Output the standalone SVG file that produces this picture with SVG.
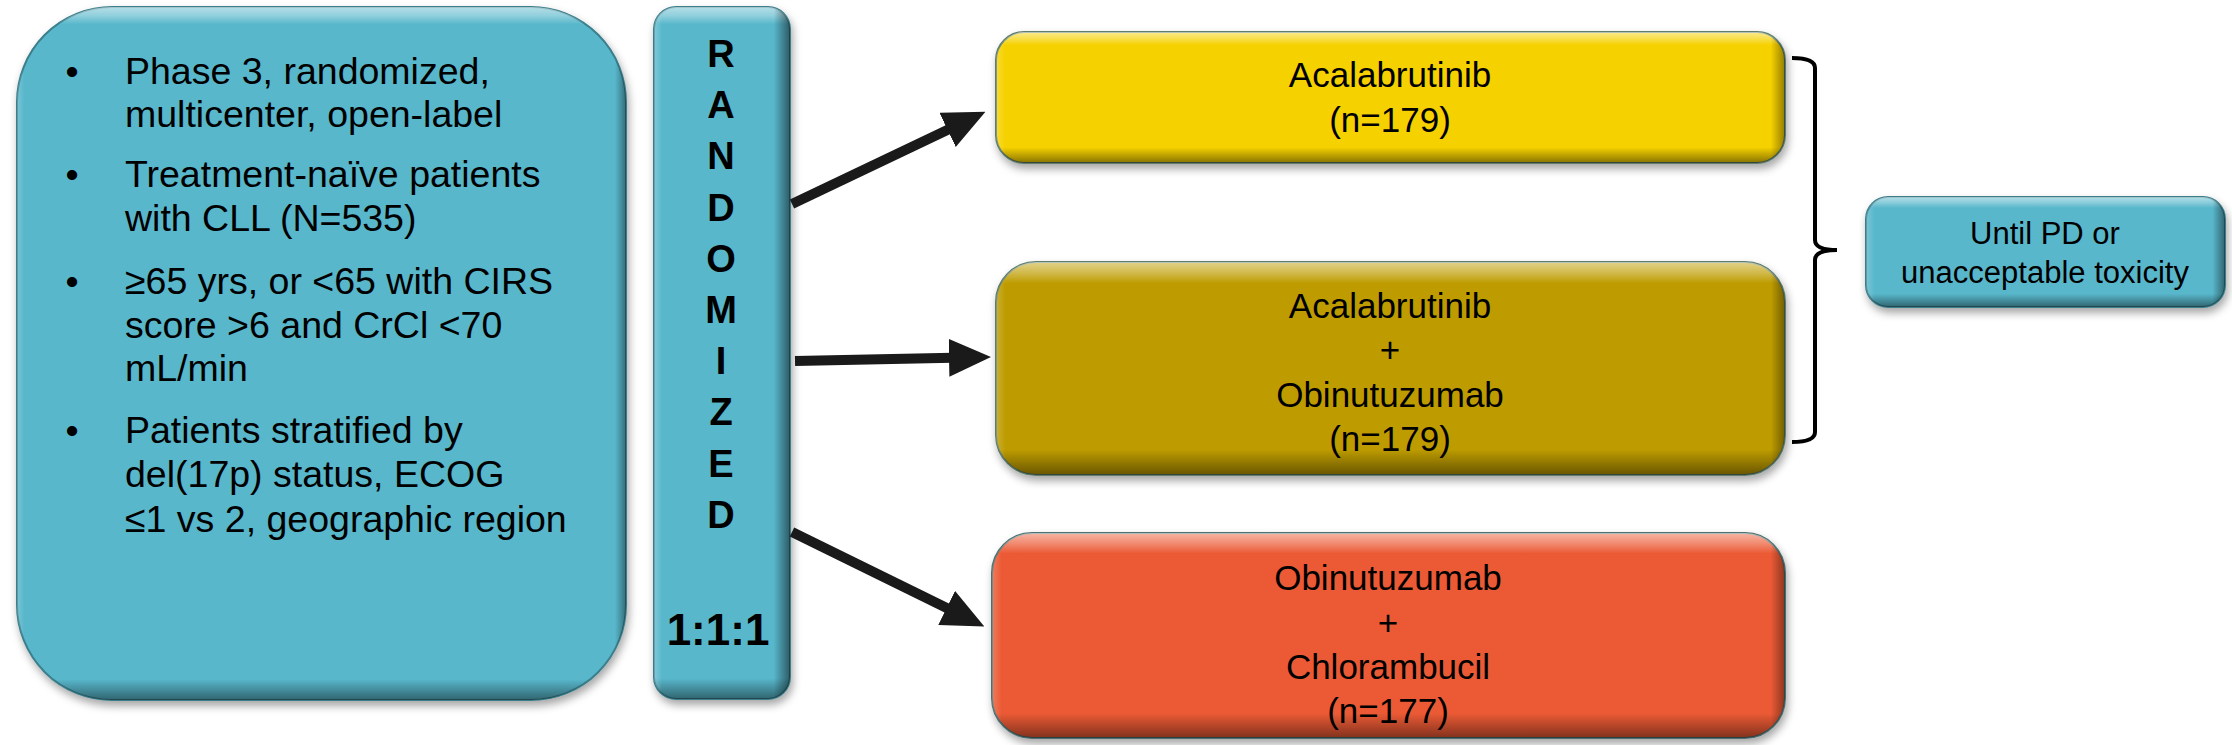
<svg xmlns="http://www.w3.org/2000/svg" width="2232" height="745" viewBox="0 0 2232 745">
<style>
.t{font-family:"Liberation Sans",Arial,sans-serif;fill:#000}
.lt{font-size:37.5px}
.bt{font-size:35px;text-anchor:middle}
.rz{font-size:38px;font-weight:bold;text-anchor:middle}
.teal{fill:#58B7CB;stroke:#3B7F8C;stroke-width:2}
.yel{fill:#F6D104;stroke:#5F7D6A;stroke-width:2}
.oli{fill:#BE9C03;stroke:#5F7D6A;stroke-width:2}
.org{fill:#EB5A34;stroke:#4F6F70;stroke-width:2}
.conn{stroke:#1a1a1a;stroke-width:10;fill:none}
</style>
<defs>
<filter id="sh" x="-10%" y="-10%" width="120%" height="130%">
<feDropShadow dx="2" dy="5" stdDeviation="4" flood-color="#000" flood-opacity="0.35"/>
</filter>
<linearGradient id="vTall" x1="0" y1="0" x2="0" y2="1">
<stop offset="0" stop-color="#fff" stop-opacity="0.55"/>
<stop offset="0.012" stop-color="#fff" stop-opacity="0.35"/>
<stop offset="0.025" stop-color="#fff" stop-opacity="0"/>
<stop offset="0.97" stop-color="#000" stop-opacity="0"/>
<stop offset="1" stop-color="#000" stop-opacity="0.45"/>
</linearGradient>
<linearGradient id="vShort" x1="0" y1="0" x2="0" y2="1">
<stop offset="0" stop-color="#fff" stop-opacity="0.55"/>
<stop offset="0.05" stop-color="#fff" stop-opacity="0.3"/>
<stop offset="0.1" stop-color="#fff" stop-opacity="0"/>
<stop offset="0.88" stop-color="#000" stop-opacity="0"/>
<stop offset="1" stop-color="#000" stop-opacity="0.45"/>
</linearGradient>
<linearGradient id="hWide" x1="0" y1="0" x2="1" y2="0">
<stop offset="0" stop-color="#fff" stop-opacity="0.2"/>
<stop offset="0.012" stop-color="#fff" stop-opacity="0"/>
<stop offset="0.982" stop-color="#000" stop-opacity="0"/>
<stop offset="1" stop-color="#000" stop-opacity="0.4"/>
</linearGradient>
<linearGradient id="hNarrow" x1="0" y1="0" x2="1" y2="0">
<stop offset="0" stop-color="#fff" stop-opacity="0.25"/>
<stop offset="0.06" stop-color="#fff" stop-opacity="0"/>
<stop offset="0.88" stop-color="#000" stop-opacity="0"/>
<stop offset="1" stop-color="#000" stop-opacity="0.5"/>
</linearGradient>
<linearGradient id="hMid" x1="0" y1="0" x2="1" y2="0">
<stop offset="0" stop-color="#fff" stop-opacity="0.2"/>
<stop offset="0.025" stop-color="#fff" stop-opacity="0"/>
<stop offset="0.965" stop-color="#000" stop-opacity="0"/>
<stop offset="1" stop-color="#000" stop-opacity="0.45"/>
</linearGradient>
<marker id="ah" viewBox="0 0 42 38" refX="16" refY="19" markerWidth="42" markerHeight="38" markerUnits="userSpaceOnUse" orient="auto">
<path d="M0,0 L42,19 L0,38 z" fill="#1a1a1a"/>
</marker>
</defs>

<g id="criteria">
<rect class="teal" x="17" y="7" width="609" height="693" rx="95" filter="url(#sh)"/>
<rect x="17" y="7" width="609" height="693" rx="95" fill="url(#vTall)"/>
<rect x="17" y="7" width="609" height="693" rx="95" fill="url(#hWide)"/>
<g class="t lt">
<text x="72" y="84" text-anchor="middle">•</text>
<text x="125" y="84">Phase 3, randomized,</text>
<text x="125" y="127">multicenter, open-label</text>
<text x="72" y="187" text-anchor="middle">•</text>
<text x="125" y="187">Treatment-naïve patients</text>
<text x="125" y="231">with CLL (N=535)</text>
<text x="72" y="294" text-anchor="middle">•</text>
<text x="125" y="294">≥65 yrs, or &lt;65 with CIRS</text>
<text x="125" y="338">score &gt;6 and CrCl &lt;70</text>
<text x="125" y="381">mL/min</text>
<text x="72" y="443" text-anchor="middle">•</text>
<text x="125" y="443">Patients stratified by</text>
<text x="125" y="487">del(17p) status, ECOG</text>
<text x="125" y="532">≤1 vs 2, geographic region</text>
</g>
</g>

<g id="randomized">
<rect class="teal" x="654" y="7" width="136" height="692" rx="22" filter="url(#sh)"/>
<rect x="654" y="7" width="136" height="692" rx="22" fill="url(#vTall)"/>
<rect x="654" y="7" width="136" height="692" rx="22" fill="url(#hNarrow)"/>
<g class="t rz">
<text x="721" y="67">R</text>
<text x="721" y="118">A</text>
<text x="721" y="169">N</text>
<text x="721" y="221">D</text>
<text x="721" y="272">O</text>
<text x="721" y="323">M</text>
<text x="721" y="374">I</text>
<text x="721" y="425">Z</text>
<text x="721" y="477">E</text>
<text x="721" y="528">D</text>
<text x="718" y="645" style="font-size:44px">1:1:1</text>
</g>
</g>

<g id="arm-acalabrutinib">
<rect class="yel" x="996" y="32" width="789" height="131" rx="28" filter="url(#sh)"/>
<rect x="996" y="32" width="789" height="131" rx="28" fill="url(#vShort)"/>
<rect x="996" y="32" width="789" height="131" rx="28" fill="url(#hWide)"/>
<g class="t bt">
<text x="1390" y="87">Acalabrutinib</text>
<text x="1390" y="132">(n=179)</text>
</g>
</g>

<g id="arm-acala-obin">
<rect class="oli" x="996" y="262" width="789" height="213" rx="40" filter="url(#sh)"/>
<rect x="996" y="262" width="789" height="213" rx="40" fill="url(#vShort)"/>
<rect x="996" y="262" width="789" height="213" rx="40" fill="url(#hWide)"/>
<g class="t bt">
<text x="1390" y="318">Acalabrutinib</text>
<text x="1390" y="362">+</text>
<text x="1390" y="407">Obinutuzumab</text>
<text x="1390" y="451">(n=179)</text>
</g>
</g>

<g id="arm-obin-chlor">
<rect class="org" x="992" y="533" width="793" height="205" rx="40" filter="url(#sh)"/>
<rect x="992" y="533" width="793" height="205" rx="40" fill="url(#vShort)"/>
<rect x="992" y="533" width="793" height="205" rx="40" fill="url(#hWide)"/>
<g class="t bt">
<text x="1388" y="590">Obinutuzumab</text>
<text x="1388" y="635">+</text>
<text x="1388" y="679">Chlorambucil</text>
<text x="1388" y="723">(n=177)</text>
</g>
</g>

<g id="until">
<rect class="teal" x="1866" y="197" width="359" height="110" rx="22" filter="url(#sh)"/>
<rect x="1866" y="197" width="359" height="110" rx="22" fill="url(#vShort)"/>
<rect x="1866" y="197" width="359" height="110" rx="22" fill="url(#hMid)"/>
<g class="t bt" style="font-size:31px">
<text x="2045" y="244">Until PD or</text>
<text x="2045" y="283">unacceptable toxicity</text>
</g>
</g>

<g id="connectors">
<line class="conn" x1="792" y1="204" x2="962" y2="123" marker-end="url(#ah)"/>
<line class="conn" x1="795" y1="361" x2="965" y2="357.5" marker-end="url(#ah)"/>
<line class="conn" x1="792" y1="532" x2="961" y2="615" marker-end="url(#ah)"/>
<path d="M1792,58 Q1815,58 1815,68 V240 Q1815,250 1837,250 Q1815,250 1815,260 V432 Q1815,442 1792,442" fill="none" stroke="#000" stroke-width="4"/>
</g>
</svg>
